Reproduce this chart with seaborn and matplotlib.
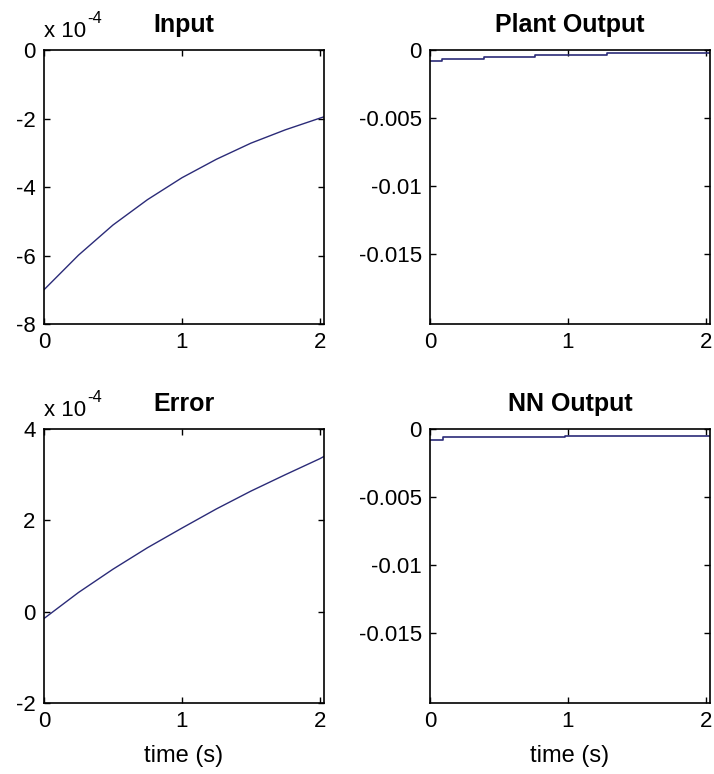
import matplotlib
matplotlib.use("Agg")
import matplotlib.pyplot as plt
import seaborn as sns
import pandas as pd

# ---- data ----
input_t = [0.0, 0.25, 0.5, 0.75, 1.0, 1.25, 1.5, 1.75, 2.0, 2.03]
input_v = [-7.0, -5.99, -5.11, -4.37, -3.73, -3.19, -2.72, -2.33, -1.99, -1.95]   # x 1e-4

error_t = [0.0, 0.25, 0.5, 0.75, 1.0, 1.25, 1.5, 1.75, 2.0, 2.03]
error_v = [-0.15, 0.42, 0.93, 1.40, 1.83, 2.25, 2.64, 3.00, 3.35, 3.40]           # x 1e-4

plant_t = [0.0, 0.085, 0.39, 0.76, 1.28, 2.03]
plant_v = [-0.0008, -0.00068, -0.00054, -0.00039, -0.00024, -0.00024]

nn_t = [0.0, 0.094, 0.976, 2.03]
nn_v = [-0.00078, -0.00062, -0.0005, -0.0005]

titles = ["Input", "Plant Output", "Error", "NN Output"]
x_ticks = [0, 1, 2]
input_yticks = [0, -2, -4, -6, -8]
error_yticks = [4, 2, 0, -2]
out_yticks = [0, -0.005, -0.01, -0.015]
out_ylabels = ["0", "-0.005", "-0.01", "-0.015"]

sns.set_style("ticks")
plt.rcParams["font.family"] = ["Liberation Sans", "DejaVu Sans"]
plt.rcParams["axes.unicode_minus"] = False
for k in ("text.color", "axes.labelcolor", "xtick.color", "ytick.color",
          "xtick.labelcolor", "ytick.labelcolor"):
    plt.rcParams[k] = "black"

LINE = "#2b2b78"
fig = plt.figure(figsize=(7.14, 7.74), dpi=100)
W, H = 714, 774

def make_ax(l, t, r, b):
    return fig.add_axes([l / W, 1 - b / H, (r - l) / W, (b - t) / H])

ax_in = make_ax(44, 50, 324, 324)
ax_pl = make_ax(430, 50, 710, 324)
ax_er = make_ax(44, 429, 324, 703)
ax_nn = make_ax(430, 429, 710, 703)

sns.lineplot(data=pd.DataFrame({"t": input_t, "v": input_v}), x="t", y="v",
             ax=ax_in, color=LINE, lw=1.0, estimator=None, sort=False)
sns.lineplot(data=pd.DataFrame({"t": error_t, "v": error_v}), x="t", y="v",
             ax=ax_er, color=LINE, lw=1.0, estimator=None, sort=False)
sns.lineplot(data=pd.DataFrame({"t": plant_t, "v": plant_v}), x="t", y="v",
             ax=ax_pl, color=LINE, lw=1.2, estimator=None, sort=False,
             drawstyle="steps-post")
sns.lineplot(data=pd.DataFrame({"t": nn_t, "v": nn_v}), x="t", y="v",
             ax=ax_nn, color=LINE, lw=1.2, estimator=None, sort=False,
             drawstyle="steps-post")

for ax, title in zip([ax_in, ax_pl, ax_er, ax_nn], titles):
    ax.set_xlim(0, 2.03)
    ax.set_xticks(x_ticks)
    ax.set_xticklabels([str(v) for v in x_ticks])
    ax.set_title(title, fontsize=18, fontweight="bold", pad=13, color="black")
    ax.set_xlabel("")
    ax.set_ylabel("")
    ax.tick_params(direction="in", top=True, right=True, length=4,
                   width=1, labelsize=16, pad=6, color="black",
                   labelcolor="black")
    for s in ax.spines.values():
        s.set_visible(True)
        s.set_linewidth(1.2)
        s.set_color("black")

ax_in.set_ylim(-8, 0)
ax_in.set_yticks(input_yticks)
ax_in.set_yticklabels([str(v) for v in input_yticks])
ax_er.set_ylim(-2, 4)
ax_er.set_yticks(error_yticks)
ax_er.set_yticklabels([str(v) for v in error_yticks])
for ax in (ax_pl, ax_nn):
    ax.set_ylim(-0.0201, 0)
    ax.set_yticks(out_yticks)
    ax.set_yticklabels(out_ylabels)

for ax in (ax_in, ax_er):
    base = ax.text(0.0, 1.03, "x 10", transform=ax.transAxes,
                   ha="left", va="bottom", fontsize=16, color="black")
    ax.annotate("-4", xy=(1.0, 0.75), xycoords=base, xytext=(1, 0),
                textcoords="offset points", ha="left", va="bottom",
                fontsize=12, color="black")

for ax in (ax_er, ax_nn):
    ax.set_xlabel("time (s)", fontsize=17, labelpad=9, color="black")

fig.savefig("out.png", dpi=100)
